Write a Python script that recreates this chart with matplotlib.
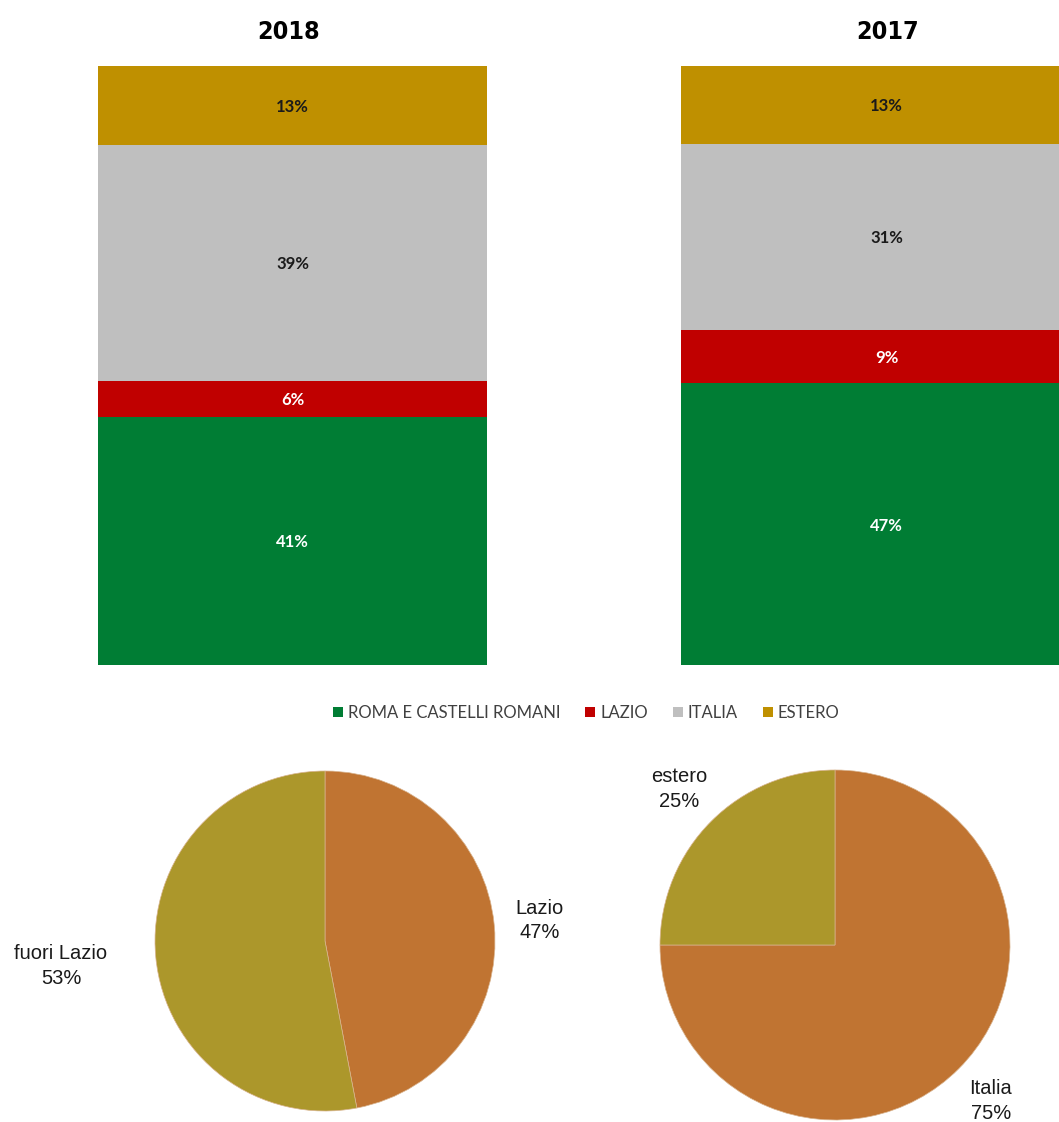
import numpy as np
import matplotlib
matplotlib.use("Agg")
import matplotlib.pyplot as plt
from matplotlib.patches import Patch

# --- Data ---
years = ["2018", "2017"]
categories = ["ROMA E CASTELLI ROMANI", "LAZIO", "ITALIA", "ESTERO"]
shares_2018 = [41, 6, 39, 13]
shares_2017 = [47, 9, 31, 13]
bar_colors = ["#007D34", "#C00000", "#BFBFBF", "#BF9000"]
label_colors = ["white", "white", "#1a1a1a", "#1a1a1a"]

pie1_labels = ["Lazio", "fuori Lazio"]
pie1_values = [47, 53]
pie2_labels = ["Italia", "estero"]
pie2_values = [75, 25]
pie_colors = ["#C07432", "#AC972B"]

W, H = 1059, 1122
fig = plt.figure(figsize=(W / 100, H / 100), dpi=100)
fig.patch.set_facecolor("white")


def px_axes(x0, y0, x1, y1):
    # axes from pixel box (top-left origin)
    return fig.add_axes([x0 / W, 1 - y1 / H, (x1 - x0) / W, (y1 - y0) / H])


# --- Stacked bars ---
bar_boxes = [(98, 66, 487, 665), (681, 66, 1092, 665)]
title_x = [289, 888]
for year, shares, box, tx in zip(years, [shares_2018, shares_2017], bar_boxes, title_x):
    ax = px_axes(*box)
    vals = np.array(shares, dtype=float)
    vals = vals / vals.sum()
    bottom = 0.0
    for v, c, lc, s in zip(vals, bar_colors, label_colors, shares):
        ax.bar(0, v, bottom=bottom, width=1.0, color=c, edgecolor="none")
        ax.text(0, bottom + v / 2, f"{s}%", ha="center", va="center_baseline",
                fontsize=12, fontweight="bold", color=lc, family=["Lato", "DejaVu Sans"])
        bottom += v
    ax.set_xlim(-0.5, 0.5)
    ax.set_ylim(0, 1)
    ax.axis("off")
    fig.text(tx / W, 1 - 32 / H, year, ha="center", va="center", fontsize=18,
             fontweight="bold", family="DejaVu Sans", fontstretch="condensed")

# --- Legend ---
handles = [Patch(facecolor=c, edgecolor="none") for c in bar_colors]
fig.legend(handles, categories, loc="center", bbox_to_anchor=(586 / W, 1 - 713 / H),
           ncol=4, frameon=False, handlelength=0.6, handleheight=0.6, handletextpad=0.3,
           columnspacing=1.5, prop={"family": ["Lato", "DejaVu Sans"], "size": 12},
           labelcolor="#404040")

# --- Pies ---
label_font = ["Liberation Sans", "DejaVu Sans"]


def draw_pie(box, values, labels, colors, dists):
    ax = px_axes(*box)
    wedges, _ = ax.pie(values, colors=colors, startangle=90, counterclock=False,
                       wedgeprops={"linewidth": 0.5, "edgecolor": "#d9b48f"})
    for w, lab, v, d in zip(wedges, labels, values, dists):
        ang = np.deg2rad((w.theta1 + w.theta2) / 2)
        ax.text(d * np.cos(ang), d * np.sin(ang), f"{lab}\n{v}%", ha="center", va="center",
                fontsize=14.5, family=label_font, color="#1a1a1a", linespacing=1.35,
                clip_on=False)
    ax.set_xlim(-1, 1)
    ax.set_ylim(-1, 1)
    ax.set_aspect("equal")
    ax.axis("off")


draw_pie((155, 771, 495, 1111), pie1_values, pie1_labels, pie_colors, [1.27, 1.56])
draw_pie((660, 770, 1010, 1120), pie2_values, pie2_labels, pie_colors, [1.26, 1.26])

fig.savefig("out.png", dpi=100, facecolor="white")
